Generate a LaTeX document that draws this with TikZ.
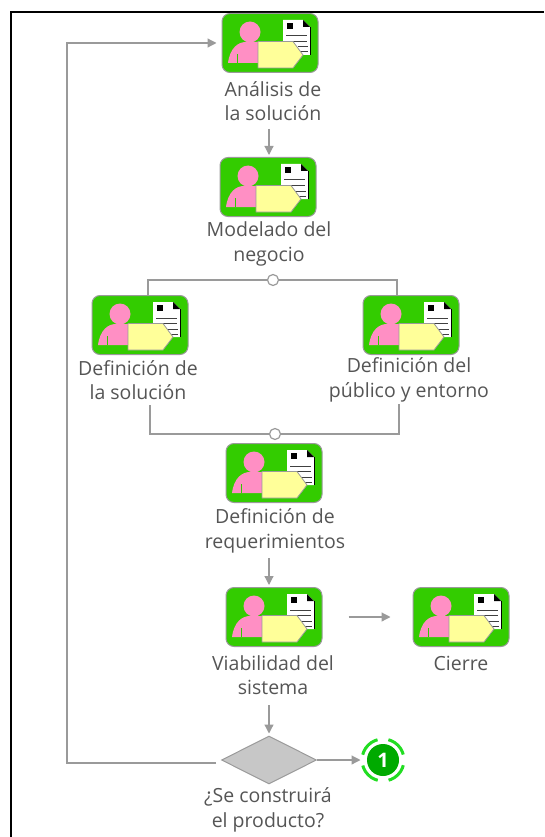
\documentclass[tikz,border=0pt]{standalone}
\usepackage{fontspec}
\setmainfont{Open Sans}
\usetikzlibrary{arrows.meta,shapes.geometric}
\definecolor{verde}{HTML}{33CC00}
\definecolor{verdefin}{HTML}{00AA00}
\definecolor{anillov}{HTML}{22DD22}
\definecolor{rosa}{HTML}{FF8FC4}
\definecolor{amarillo}{HTML}{FFFF99}
\definecolor{linea}{HTML}{9A9A9A}
\definecolor{texto}{HTML}{555555}
\tikzset{
    tarea/.style={rectangle,rounded corners=8pt,draw=linea,line width=1pt,fill=verde,
        minimum width=96pt,minimum height=59pt,inner sep=0pt,path picture={
            \begin{scope}[sharp corners]
            \fill[white] (13,-23) -- (33,-23) -- (40,-16) -- (40,12) -- (13,12) -- cycle;
            \fill[black] (33,-23) -- (40,-16) -- (33,-16) -- cycle;
            \fill[black] (17,-20) rectangle (23,-14);
            \draw[black!75,line width=1pt] (16,-7) -- (37,-7) (16,-1.5) -- (37,-1.5) (28,4) -- (38,4) (28,9) -- (38,9);
            \draw[black,line width=.8pt] (40,-16) -- (40,12);
            \fill[rosa] (-20,-11) circle (10.5);
            \fill[rosa] (-42,20) .. controls (-40,5) and (-32,-1) .. (-24,-1) -- (-10,-1) -- (-10,20) -- cycle;
            \draw[verde,line width=.6pt] (-33,20) -- (-33,11);
            \draw[fill=amarillo,draw=linea,line width=.8pt] (-12,-1.5) -- (23,-1.5) -- (33,12) -- (23,25) -- (-12,25) -- cycle;
            \end{scope}
        }},
    etiqueta/.style={text=texto,font=\fontsize{19.5}{24.5}\selectfont,align=center,inner sep=2pt},
    flecha/.style={draw=linea,line width=1.2pt,-{Triangle[length=9pt,width=9pt]}},
    union/.style={draw=linea,line width=1.2pt},
    nudo/.style={circle,draw=linea,fill=white,line width=1.2pt,minimum size=11pt,inner sep=0pt},
}
\begin{document}
\begin{tikzpicture}[x=1pt,y=-1pt]
    \useasboundingbox (0,0) rectangle (544,837);
    \draw[line width=1.3pt] (11,837) -- (11,12) -- (544,12);

    \node[tarea] (analisis) at (270,43) {};
    \node[tarea] (modelado) at (268,187) {};
    \node[tarea] (solucion) at (140,325) {};
    \node[tarea] (publico) at (411,325) {};
    \node[tarea] (requer) at (274,473) {};
    \node[tarea] (viabilidad) at (274,617) {};
    \node[tarea] (cierre) at (461,617) {};
    \node[diamond,aspect=2,draw=linea,fill=black!22,line width=1pt,minimum width=95pt,minimum height=48pt,inner sep=0pt] (construir) at (269,760) {};
    \node[circle,fill=verdefin,minimum size=32pt,inner sep=0pt,text=white,font=\bfseries\fontsize{20}{20}\selectfont] (fin) at (383,760) {1};
    \node[circle,draw=anillov,line width=3pt,minimum size=42pt,inner sep=0pt,dash pattern=on 22pt off 11pt,dash phase=27.5pt] (anillo) at (383,760) {};

    \node[etiqueta] (Lanalisis) at (273,101) {Análisis de\\la solución};
    \node[etiqueta] (Lmodelado) at (269,244) {Modelado del\\negocio};
    \node[etiqueta] (Lsolucion) at (138,380) {Definición de\\la solución};
    \node[etiqueta] (Lpublico) at (409,380) {Definición del\\público y entorno};
    \node[etiqueta] (Lrequer) at (275,531) {Definición de\\requerimientos};
    \node[etiqueta] (Lviabilidad) at (273,675) {Viabilidad del\\sistema};
    \node[etiqueta] (Lcierre) at (461,663) {Cierre};
    \node[etiqueta] (Lconstruir) at (268,810) {¿Se construirá\\el producto?};

    \node[nudo] (abre) at (273,280) {};
    \node[nudo] (cierra) at (275,434) {};
    \coordinate (A) at (148,280);
    \coordinate (B) at (397,280);
    \coordinate (C) at (150,434);
    \coordinate (D) at (399,434);
    \coordinate (E) at (269,129);
    \coordinate (F) at (269,558);
    \coordinate (G) at (269,705);
    \coordinate (H) at (216,763);
    \coordinate (I) at (67,763);
    \coordinate (J) at (67,43);

    \draw[flecha,shorten >=2pt] (E) -- (E |- modelado.north);
    \draw[flecha,shorten >=2pt] (F) -- (F |- viabilidad.north);
    \draw[flecha,shorten >=2pt] (G) -- (G |- construir.north);
    \draw[flecha,shorten <=26pt,shorten >=22pt] (viabilidad) -- (cierre);
    \draw[flecha] (construir.east) -- (anillo.west);
    \draw[flecha,shorten >=5pt] (H) -- (I) -- (J) -- (analisis.west);

    \draw[union] (A |- solucion.north) -- (A) -- (abre) -- (B) -- (B |- publico.north);
    \draw[union] (C |- Lsolucion.south) ++(0,3) -- (C) -- (cierra) -- (D) -- (D |- Lpublico.south);
\end{tikzpicture}
\end{document}
